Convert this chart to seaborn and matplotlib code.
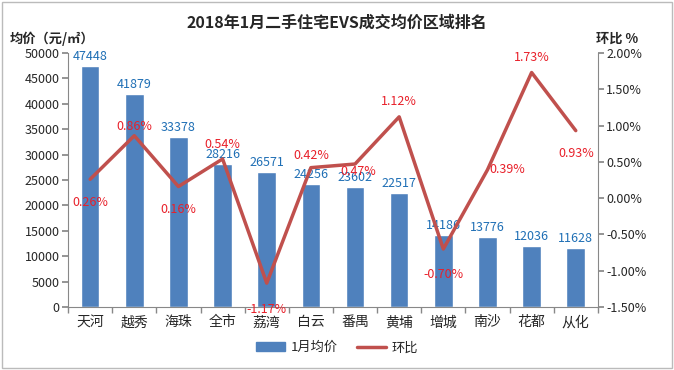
import numpy as np
import pandas as pd
import matplotlib
matplotlib.use("Agg")
import matplotlib.pyplot as plt
import seaborn as sns
from matplotlib.patches import Patch, Rectangle
from matplotlib.lines import Line2D
from matplotlib.ticker import FuncFormatter

# data
regions = ['天河', '越秀', '海珠', '全市', '荔湾', '白云', '番禺', '黄埔', '增城', '南沙', '花都', '从化']
prices = [47448, 41879, 33378, 28216, 26571, 24256, 23602, 22517, 14186, 13776, 12036, 11628]
mom = [0.26, 0.86, 0.16, 0.54, -1.17, 0.42, 0.47, 1.12, -0.70, 0.39, 1.73, 0.93]

# label offsets for the line labels (points)
mom_offsets = [(0, -12), (0, 2), (0, -12), (0, 6), (0, -14), (0, 4),
               (2, -1), (0, 6), (0, -14), (14, 0), (0, 6), (0, -12)]

BAR = '#4F81BD'
LINE = '#C0504D'

sns.set_theme(style='white')
plt.rcParams['font.family'] = ['Noto Sans CJK SC', 'DejaVu Sans']

df = pd.DataFrame({'region': regions, 'price': prices, 'mom': mom})

fig = plt.figure(figsize=(6.74, 3.70), dpi=100)
ax = fig.add_axes([0.101, 0.170, 0.786, 0.687])

sns.barplot(data=df, x='region', y='price', color=BAR, width=0.42,
            saturation=1, ax=ax)
ax.set_ylim(0, 50000)
ax.set_yticks(np.arange(0, 50001, 5000))
ax.set_xlim(-0.5, len(regions) - 0.5)
ax.set_xlabel('')
ax.set_ylabel('')
ax.tick_params(axis='y', labelsize=9, length=4, color='#888888', direction='out', pad=2)
ax.tick_params(axis='x', labelsize=10, length=0, pad=6)
ax.set_xticks(np.arange(-0.5, len(regions)), minor=True)
ax.tick_params(axis='x', which='minor', length=4, color='#888888', direction='out')
for s in ['top', 'right']:
    ax.spines[s].set_visible(False)
for s in ['left', 'bottom']:
    ax.spines[s].set_color('#888888')
    ax.spines[s].set_linewidth(0.8)
ax.yaxis.set_ticks_position('left')
ax.xaxis.set_ticks_position('bottom')

for i, v in enumerate(prices):
    ax.text(i, v + 600, str(v), ha='center', va='bottom', fontsize=9, color='#1F6FB5')

ax2 = ax.twinx()
sns.lineplot(x=np.arange(len(regions)), y=mom, color=LINE, linewidth=2.5, ax=ax2)
ax2.set_ylim(-1.5, 2.0)
ax2.set_yticks(np.arange(-1.5, 2.01, 0.5))
ax2.yaxis.set_major_formatter(FuncFormatter(lambda v, p: f'{v:.2f}%'))
ax2.tick_params(axis='y', labelsize=9, length=4, color='#888888', direction='out', pad=2)
for s in ['top', 'left', 'bottom']:
    ax2.spines[s].set_visible(False)
ax2.spines['right'].set_color('#888888')
ax2.spines['right'].set_linewidth(0.8)
ax2.yaxis.set_ticks_position('right')

for i, v in enumerate(mom):
    dx, dy = mom_offsets[i]
    ax2.annotate(f'{v:.2f}%', (i, v), xytext=(dx, dy), textcoords='offset points',
                 ha='center', va='bottom' if dy > 0 else 'top' if dy < 0 else 'center',
                 fontsize=9, color='#E8202A')

fig.text(0.5, 0.94, '2018年1月二手住宅EVS成交均价区域排名', ha='center', va='center',
         fontsize=11.5, fontweight='bold')
fig.text(0.015, 0.895, '均价（元/㎡）', ha='left', va='center', fontsize=9.5, fontweight='bold')
fig.text(0.885, 0.895, '环比 %', ha='left', va='center', fontsize=9.5, fontweight='bold')

handles = [Patch(color=BAR, label='1月均价'), Line2D([0], [0], color=LINE, lw=2.5, label='环比')]
fig.legend(handles=handles, loc='center', bbox_to_anchor=(0.5, 0.06), ncol=2,
           frameon=False, fontsize=9.5, handlelength=2.2, columnspacing=1.5, handletextpad=0.4)

fig.patches.append(Rectangle((0.003, 0.005), 0.994, 0.99, transform=fig.transFigure,
                             fill=False, edgecolor='#BBBBBB', linewidth=1))

fig.savefig('out.png', dpi=100)
